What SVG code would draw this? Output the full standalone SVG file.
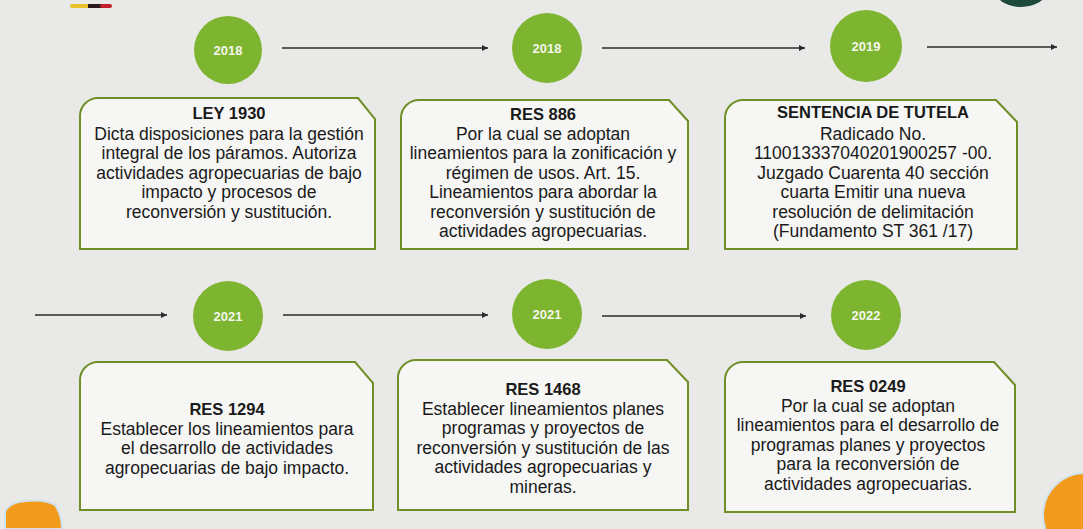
<svg xmlns="http://www.w3.org/2000/svg" width="1083" height="529" viewBox="0 0 1083 529">
<style>
  .bg { fill: #e9e9e7; }
  .box { fill: #f6f6f4; stroke: #6f8f26; stroke-width: 2; }
  .yr { fill: #7db430; }
  .yt { font-family: "Liberation Sans", Arial, sans-serif; font-weight: bold; font-size: 13px; fill: #f4f7ec; text-anchor: middle; }
  .ttl { font-family: "Liberation Sans", Arial, sans-serif; font-weight: bold; font-size: 16.5px; fill: #1a1a1a; text-anchor: middle; }
  .txt { font-family: "Liberation Sans", Arial, sans-serif; font-size: 17.5px; fill: #1a1a1a; text-anchor: middle; }
  .conn { stroke: #2b2b2b; stroke-width: 1.6; fill: none; marker-end: url(#ah); }
</style>
<defs>
  <marker id="ah" markerUnits="userSpaceOnUse" markerWidth="8" markerHeight="8" refX="6" refY="3" orient="auto">
    <path d="M0,0 L6,3 L0,6 Z" fill="#2b2b2b"/>
  </marker>
</defs>
<rect class="bg" x="0" y="0" width="1083" height="529"/>

<!-- decorations -->
<g id="decor">
  <rect x="70" y="4" width="22" height="4" rx="2" fill="#e6c228"/>
  <rect x="88" y="4" width="16" height="4" fill="#2a1a1e"/>
  <rect x="100" y="4" width="12" height="4" rx="2" fill="#c3202c"/>
  <ellipse cx="1021" cy="-8" rx="25" ry="15" fill="#1e4a3c"/>
  <path d="M5,529 L5,512 Q8,503 25,501 Q45,499 55,505 Q62,515 62,529 Z" fill="#f29a1b" stroke="#cfe3ee" stroke-width="2"/>
  <circle cx="1085" cy="515" r="42" fill="#f29a1b" stroke="#cfe3ee" stroke-width="2"/>
</g>

<!-- connectors -->
<g id="connectors">
  <line class="conn" x1="282" y1="48" x2="488" y2="48"/>
  <line class="conn" x1="602" y1="48" x2="805" y2="48"/>
  <line class="conn" x1="927" y1="47" x2="1057" y2="47"/>
  <line class="conn" x1="35" y1="315" x2="167" y2="315"/>
  <line class="conn" x1="283" y1="315" x2="488" y2="315"/>
  <line class="conn" x1="602" y1="316" x2="806" y2="316"/>
</g>

<!-- Row 1 -->
<g id="node-2018a">
  <circle class="yr" cx="228" cy="50" r="34"/>
  <text class="yt" x="228" y="54.5">2018</text>
  <path class="box" d="M80,249 L80,116 A18,18 0 0 1 98,98 L358,98 L375,119 L375,249 Z"/>
  <text class="ttl" x="229" y="119">LEY 1930</text>
  <text class="txt" x="229" y="139.5">Dicta disposiciones para la gestión</text>
  <text class="txt" x="229" y="159">integral de los páramos. Autoriza</text>
  <text class="txt" x="229" y="178.5">actividades agropecuarias de bajo</text>
  <text class="txt" x="229" y="198">impacto y procesos de</text>
  <text class="txt" x="229" y="217.5">reconversión y sustitución.</text>
</g>

<g id="node-2018b">
  <circle class="yr" cx="547" cy="48" r="35"/>
  <text class="yt" x="547" y="52.5">2018</text>
  <path class="box" d="M401,249 L401,118 A18,18 0 0 1 419,100 L669,100 L688,121 L688,249 Z"/>
  <text class="ttl" x="543" y="120">RES 886</text>
  <text class="txt" x="543" y="139.5">Por la cual se adoptan</text>
  <text class="txt" x="543" y="159">lineamientos para la zonificación y</text>
  <text class="txt" x="543" y="178.5">régimen de usos. Art. 15.</text>
  <text class="txt" x="543" y="198">Lineamientos para abordar la</text>
  <text class="txt" x="543" y="217.5">reconversión y sustitución de</text>
  <text class="txt" x="543" y="237">actividades agropecuarias.</text>
</g>

<g id="node-2019">
  <circle class="yr" cx="866" cy="46" r="36"/>
  <text class="yt" x="866" y="50.5">2019</text>
  <path class="box" d="M725,249 L725,118 A18,18 0 0 1 743,100 L996,100 L1017,122 L1017,249 Z"/>
  <text class="ttl" x="873" y="118">SENTENCIA DE TUTELA</text>
  <text class="txt" x="873" y="139.5">Radicado No.</text>
  <text class="txt" x="873" y="159">110013337040201900257 -00.</text>
  <text class="txt" x="873" y="178.5">Juzgado Cuarenta 40 sección</text>
  <text class="txt" x="873" y="198">cuarta Emitir una nueva</text>
  <text class="txt" x="873" y="217.5">resolución de delimitación</text>
  <text class="txt" x="873" y="237">(Fundamento ST 361 /17)</text>
</g>

<!-- Row 2 -->
<g id="node-2021a">
  <circle class="yr" cx="228" cy="316" r="35"/>
  <text class="yt" x="228" y="320.5">2021</text>
  <path class="box" d="M80,510 L80,380 A18,18 0 0 1 98,362 L355,362 L373,383 L373,510 Z"/>
  <text class="ttl" x="227" y="415">RES 1294</text>
  <text class="txt" x="227" y="434.5">Establecer los lineamientos para</text>
  <text class="txt" x="227" y="454">el desarrollo de actividades</text>
  <text class="txt" x="227" y="473.5">agropecuarias de bajo impacto.</text>
</g>

<g id="node-2021b">
  <circle class="yr" cx="547" cy="314" r="35"/>
  <text class="yt" x="547" y="318.5">2021</text>
  <path class="box" d="M398,510 L398,378 A18,18 0 0 1 416,360 L667,360 L688,382 L688,510 Z"/>
  <text class="ttl" x="543" y="395">RES 1468</text>
  <text class="txt" x="543" y="414.5">Establecer lineamientos planes</text>
  <text class="txt" x="543" y="434">programas y proyectos de</text>
  <text class="txt" x="543" y="453.5">reconversión y sustitución de las</text>
  <text class="txt" x="543" y="473">actividades agropecuarias y</text>
  <text class="txt" x="543" y="492.5">mineras.</text>
</g>

<g id="node-2022">
  <circle class="yr" cx="866" cy="315" r="35"/>
  <text class="yt" x="866" y="319.5">2022</text>
  <path class="box" d="M725,512 L725,380 A18,18 0 0 1 743,362 L994,362 L1015,385 L1015,512 Z"/>
  <text class="ttl" x="868" y="392">RES 0249</text>
  <text class="txt" x="868" y="411.5">Por la cual se adoptan</text>
  <text class="txt" x="868" y="431">lineamientos para el desarrollo de</text>
  <text class="txt" x="868" y="450.5">programas planes y proyectos</text>
  <text class="txt" x="868" y="470">para la reconversión de</text>
  <text class="txt" x="868" y="489.5">actividades agropecuarias.</text>
</g>
</svg>
